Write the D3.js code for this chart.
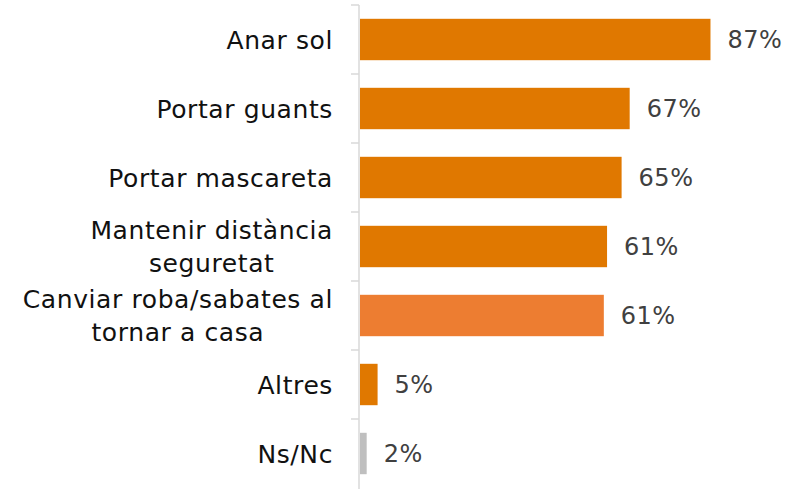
<!DOCTYPE html>
<html><head><meta charset="utf-8">
<script src="https://cdn.jsdelivr.net/npm/d3@7"></script>
<style>body{margin:0;background:#fff}svg{display:block}</style>
</head><body><svg id="c" width="789" height="489"></svg>
<script>
const categories = ["Anar sol","Portar guants","Portar mascareta","Mantenir distància\nseguretat","Canviar roba/sabates al\ntornar a casa","Altres","Ns/Nc"];
const values = [87, 67, 65, 61.4, 60.6, 4.6, 1.9];
const valueLabels = ["87%","67%","65%","61%","61%","5%","2%"];
const barColors = ["#E07800","#E07800","#E07800","#E07800","#ED7D31","#E07800","#BFBFBF"];

const svg = d3.select("#c");
const font = "'DejaVu Sans', sans-serif";
const x = d3.scaleLinear().domain([0,100]).range([359,763]);
const y = d3.scaleBand().domain(categories).range([5,488]).paddingInner(0.4).paddingOuter(0.2);

// axis
const axisG = svg.append("g").attr("transform","translate(359,0)");
const step = y.step();
const boundaries = d3.range(categories.length+1).map(i => 5 + i*step);
axisG.append("line").attr("x1",0).attr("x2",0).attr("y1",5).attr("y2",489).attr("stroke","#D9D9D9").attr("stroke-width",1.5);
axisG.selectAll("line.t").data(boundaries.slice(0,-1)).join("line").attr("class","t")
  .attr("x1",-8).attr("x2",0).attr("y1",d=>d).attr("y2",d=>d).attr("stroke","#D9D9D9").attr("stroke-width",1.5);

// bars
svg.selectAll("rect.b").data(categories).join("rect").attr("class","b")
  .attr("x", x(0)+1).attr("y", d=>y(d)).attr("height", y.bandwidth())
  .attr("width", (d,i)=> x(values[i]) - x(0) - 1).attr("fill",(d,i)=>barColors[i]);

// value labels
svg.selectAll("text.v").data(categories).join("text").attr("class","v")
  .attr("x",(d,i)=>x(values[i])+17).attr("y",d=>y(d)+y.bandwidth()/2)
  .attr("dy","0.36em").attr("font-family",font).attr("font-size",24).attr("fill","#404040")
  .attr("letter-spacing",0.5)
  .text((d,i)=>valueLabels[i]);

// category labels
const lineH = 33;
categories.forEach(c => {
  const lines = c.split("\n");
  const g = svg.append("g");
  const t = g.append("text").attr("font-family",font).attr("font-size",25).attr("fill","#111")
    .attr("letter-spacing",0.6).attr("text-anchor","middle");
  lines.forEach((l,j)=>{
    t.append("tspan").attr("x",0).attr("y", (j-(lines.length-1)/2)*lineH).attr("dy","0.36em").text(l);
  });
  const bb = t.node().getBBox();
  const right = 333;
  g.attr("transform",`translate(${right - (bb.x+bb.width)},${y(c)+y.bandwidth()/2})`);
});
</script></body></html>
